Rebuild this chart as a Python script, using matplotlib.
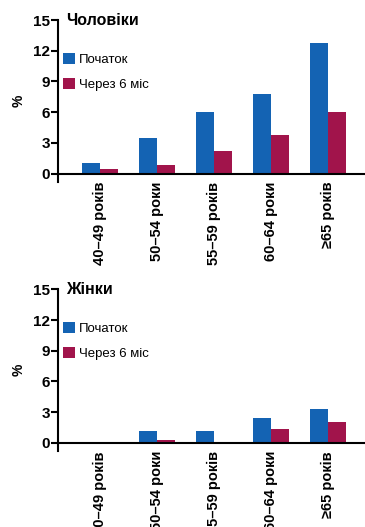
import matplotlib.pyplot as plt
import numpy as np

plt.rcParams['font.family'] = ['Liberation Sans Narrow', 'Liberation Sans', 'DejaVu Sans']

# дані
groups = ["40–49 років", "50–54 роки", "55–59 років", "60–64 роки", "≥65 років"]
men_start = [1.0, 3.5, 6.0, 7.8, 12.8]
men_6m = [0.5, 0.8, 2.2, 3.8, 6.0]
women_start = [0.0, 1.2, 1.2, 2.4, 3.3]
women_6m = [0.0, 0.3, 0.0, 1.4, 2.0]
yticks = [0, 3, 6, 9, 12, 15]

blue = "#1463b3"
red = "#a1144b"
w = 0.316
x = np.arange(len(groups))

fig = plt.figure(figsize=(3.65, 5.27), dpi=100)


def panel(rect, start, after, title):
    ax = fig.add_axes(rect)
    ax.bar(x - w / 2, start, w, color=blue, label="Початок")
    ax.bar(x + w / 2, after, w, color=red, label="Через 6 міс")
    ax.set_xlim(-0.737, 4.65)
    ax.set_ylim(-0.8, 15)
    ax.axhline(0, color="black", lw=1.5, zorder=3)
    for s in ["top", "right", "bottom"]:
        ax.spines[s].set_visible(False)
    ax.spines["left"].set_linewidth(1.5)
    ax.set_yticks(yticks)
    ax.set_yticklabels([str(t) for t in yticks], fontsize=11, fontweight="bold")
    ax.tick_params(axis="y", length=5, width=1.5, pad=1)
    ax.set_xticks(x)
    ax.set_xticklabels(groups, rotation=90, fontsize=10.5, fontweight="bold",
                       va="top", ha="center")
    ax.tick_params(axis="x", length=0, pad=0)
    ax.set_ylabel("%", fontsize=10, fontweight="bold", labelpad=5)
    # назва панелі біля верхньої поділки
    ax.text(-0.6, 15, title, fontsize=11.5, fontweight="bold",
            va="center", ha="left", clip_on=False)
    ax.legend(loc="upper left", bbox_to_anchor=(0.0, 0.83), frameon=False,
              handlelength=0.9, handleheight=0.9, handletextpad=0.3,
              labelspacing=0.9, fontsize=9.5, borderaxespad=0)
    return ax


panel([0.159, 0.655, 0.841, 0.307], men_start, men_6m, "Чоловіки")
panel([0.159, 0.144, 0.841, 0.307], women_start, women_6m, "Жінки")

plt.savefig("out.png", dpi=100)
